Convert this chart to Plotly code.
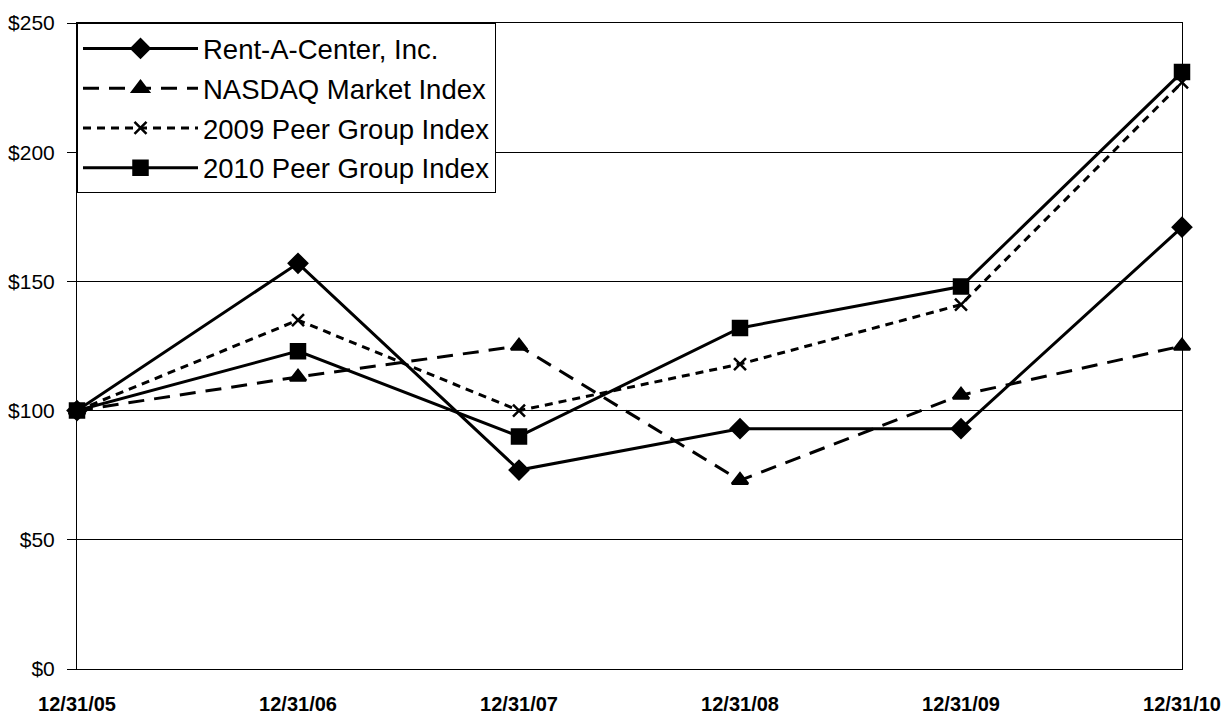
import plotly.graph_objects as go

dates = ["12/31/05", "12/31/06", "12/31/07", "12/31/08", "12/31/09", "12/31/10"]
rent_a_center = [100, 157, 77, 93, 93, 171]
nasdaq = [100, 113, 125, 73, 106, 125]
peer_2009 = [100, 135, 100, 118, 141, 227]
peer_2010 = [100, 123, 90, 132, 148, 231]
y_ticks = [0, 50, 100, 150, 200, 250]
y_labels = ["$0", "$50", "$100", "$150", "$200", "$250"]

xs = list(range(len(dates)))

fig = go.Figure()
series = [
    ("Rent-A-Center, Inc.", rent_a_center, "solid", "diamond", 14),
    ("NASDAQ Market Index", nasdaq, "16px,10px", "triangle-up", 14),
    ("2009 Peer Group Index", peer_2009, "8px,6px", "x-thin-open", 12),
    ("2010 Peer Group Index", peer_2010, "solid", "square", 14),
]
for i, (name, vals, dash, sym, size) in enumerate(series):
    fig.add_trace(go.Scatter(
        x=xs, y=vals, name=name, mode="lines+markers", legendgroup=f"g{i}",
        line=dict(color="black", width=3, dash=dash),
        marker=dict(symbol=sym, size=size, color="black",
                    line=dict(color="black", width=2.5)),
        cliponaxis=False,
    ))

fig.update_layout(
    width=1222, height=711,
    margin=dict(l=69, r=48, t=15, b=50, autoexpand=False),
    plot_bgcolor="white", paper_bgcolor="white",
    font=dict(family="Liberation Sans, Arial", color="black"),
    showlegend=True,
    legend=dict(x=0, y=1, xanchor="left", yanchor="top",
                bgcolor="white", bordercolor="black", borderwidth=1,
                font=dict(size=27.5, color="black"), itemwidth=115,
                tracegroupgap=1),
    xaxis=dict(range=[0, 5], tickvals=xs, ticktext=dates, automargin=False,
               showgrid=False, zeroline=False,
               showline=True, linecolor="black", linewidth=1, mirror=True,
               ticks="", ticklabelstandoff=17,
               tickfont=dict(size=20, color="black", weight="bold")),
    yaxis=dict(range=[0, 250], tickvals=y_ticks, ticktext=y_labels,
               automargin=False,
               showgrid=True, gridcolor="black", gridwidth=1,
               zeroline=False, showline=True, linecolor="black", linewidth=1,
               mirror=True, ticks="outside", ticklen=9, tickcolor="black",
               ticklabelstandoff=8,
               tickfont=dict(size=21, color="black")),
)

fig.write_html("out.html")
